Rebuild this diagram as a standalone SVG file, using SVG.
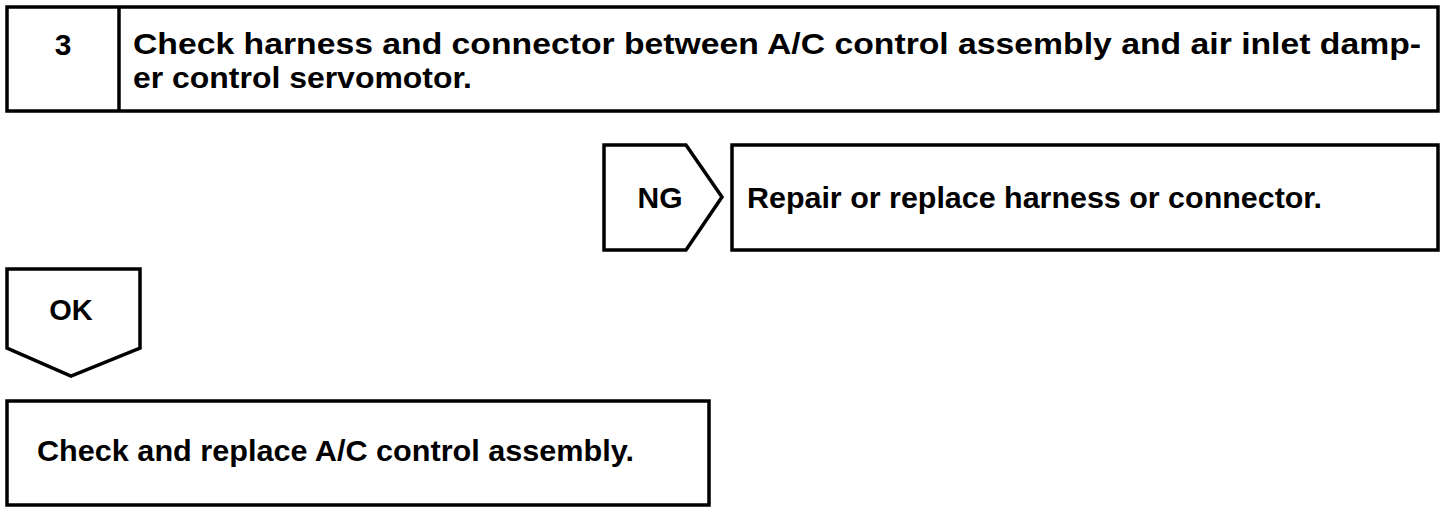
<svg xmlns="http://www.w3.org/2000/svg" width="1456" height="512" viewBox="0 0 1456 512">
<style>
.b{fill:#fff;stroke:#000;stroke-width:3.5;stroke-linejoin:miter}
.t{font-family:"Liberation Sans",Arial,Helvetica,sans-serif;font-weight:bold;fill:#000}
</style>
<rect width="1456" height="512" fill="#fff"/>
<g id="step3">
<rect class="b" x="7" y="7" width="1431" height="104"/>
<line x1="119" y1="7" x2="119" y2="111" stroke="#000" stroke-width="3.5"/>
<text class="t" x="63" y="55" font-size="30" text-anchor="middle">3</text>
<text class="t" x="133" y="54" font-size="30" textLength="1288" lengthAdjust="spacingAndGlyphs">Check harness and connector between A/C control assembly and air inlet damp-</text>
<text class="t" x="133" y="88" font-size="30" textLength="339" lengthAdjust="spacingAndGlyphs">er control servomotor.</text>
</g>
<g id="ng">
<polygon class="b" points="604,145 686,145 722,197 686,250 604,250"/>
<text class="t" x="660" y="208" font-size="30" text-anchor="middle">NG</text>
</g>
<g id="repair">
<rect class="b" x="732" y="145" width="706" height="105"/>
<text class="t" x="747" y="208" font-size="30" textLength="575" lengthAdjust="spacingAndGlyphs">Repair or replace harness or connector.</text>
</g>
<g id="ok">
<polygon class="b" points="7,269 140,269 140,348 71,376 7,348"/>
<text class="t" x="71" y="320" font-size="29" text-anchor="middle">OK</text>
</g>
<g id="replace">
<rect class="b" x="7" y="401" width="702" height="104"/>
<text class="t" x="37" y="461" font-size="30" textLength="597" lengthAdjust="spacingAndGlyphs">Check and replace A/C control assembly.</text>
</g>
<g id="connectors"></g>
</svg>
